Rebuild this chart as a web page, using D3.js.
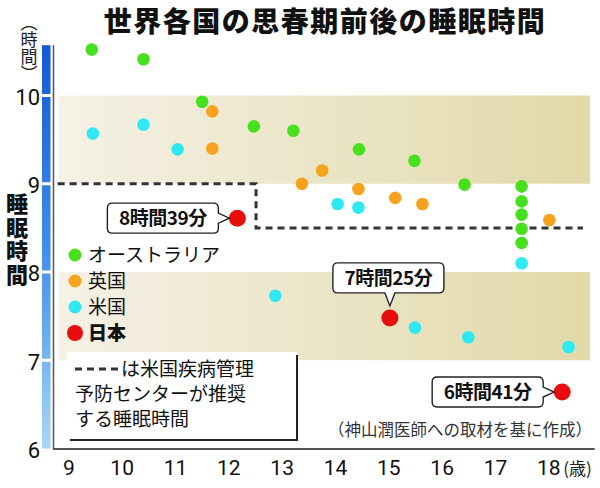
<!DOCTYPE html>
<html><head><meta charset="utf-8">
<script src="https://cdn.jsdelivr.net/npm/d3@7"></script>
<style>
body{margin:0;background:#fff;}
svg{display:block;}
</style></head>
<body>
<svg id="c" width="600" height="488"></svg>
<script>
// ---- data (age in years, sleep in hours) ----
const australia = [[9.44,10.52],[10.41,10.41],[11.51,9.93],[12.48,9.65],[13.22,9.60],[14.45,9.39],[15.49,9.26],[16.43,8.99],[17.50,8.97],[17.50,8.80],[17.50,8.65],[17.50,8.49],[17.50,8.33]];
const uk = [[11.70,9.82],[11.70,9.40],[13.38,9.00],[13.76,9.15],[14.44,8.94],[15.13,8.84],[15.64,8.77],[18.02,8.59]];
const usa = [[9.46,9.57],[10.41,9.67],[11.05,9.39],[12.88,7.73],[14.05,8.77],[14.44,8.73],[17.50,8.10],[15.50,7.37],[16.50,7.26],[18.38,7.15]];
const japan = [[12.17,8.61],[15.03,7.48],[18.26,6.64]];
const japanLabels = ["8時間39分","7時間25分","6時間41分"];
const cdcLine = [[8.8,9],[12.52,9],[12.52,8.5],[18.65,8.5]];
const xTicks = [9,10,11,12,13,14,15,16,17,18];
const yTicks = [6,7,8,9,10];
const bands = [[9,10],[7,8]];
const legendItems = ["オーストラリア","英国","米国","日本"];
const legendNote = ["は米国疾病管理","予防センターが推奨","する睡眠時間"];
const title = "世界各国の思春期前後の睡眠時間";
const source = "（神山潤医師への取材を基に作成）";
const yUnit = "（時間）";
const yTitle = "睡眠時間";
const xUnit = "(歳)";

const colors = {aus:"#46e01e", uk:"#f7a21c", usa:"#2fe9f2", jp:"#ea0d0d"};
const JP = "'Noto Sans CJK JP','Noto Sans',sans-serif";
const NUM = "'Liberation Sans Narrow','Roboto','Noto Sans CJK JP',sans-serif";

const svg = d3.select("#c");
const x = d3.scaleLinear().domain([9,18]).range([68.3,548.3]);
const y = d3.scaleLinear().domain([6,10]).range([448.5,95.5]);

const defs = svg.append("defs");
const bg = defs.append("linearGradient").attr("id","band").attr("x1","0").attr("x2","1").attr("y1","0").attr("y2","0");
bg.append("stop").attr("offset","0").attr("stop-color","#f5f1e6");
bg.append("stop").attr("offset","1").attr("stop-color","#e1d9a8");
const blue = defs.append("linearGradient").attr("id","blue").attr("x1","0").attr("x2","0").attr("y1","0").attr("y2","1");
blue.append("stop").attr("offset","0").attr("stop-color","#1459d6");
blue.append("stop").attr("offset","0.5").attr("stop-color","#3f8ceb");
blue.append("stop").attr("offset","1").attr("stop-color","#a6d8f7");

// title
svg.append("text").attr("x",325).attr("y",32).attr("text-anchor","middle")
  .attr("font-family",JP).attr("font-weight","900").attr("font-size",28)
  .attr("letter-spacing","1.5").attr("fill","#111").text(title);

// bands
svg.selectAll("rect.band").data(bands).enter().append("rect").attr("class","band")
  .attr("x",x(8.82)).attr("width",x(18.78)-x(8.82))
  .attr("y",d=>y(d[1])).attr("height",d=>y(d[0])-y(d[1]))
  .attr("fill","url(#band)");

// blue bar
svg.append("rect").attr("x",42).attr("width",8.5).attr("y",y(10.57)).attr("height",y(6)-y(10.57)).attr("fill","url(#blue)");
svg.selectAll("rect.gap").data([7,8,9,10]).enter().append("rect").attr("class","gap")
  .attr("x",41).attr("width",11).attr("y",d=>y(d)-1.5).attr("height",3).attr("fill","#fff");

// axes lines
svg.append("line").attr("x1",53.5).attr("x2",53.5).attr("y1",y(10.57)).attr("y2",y(6)+1).attr("stroke","#555").attr("stroke-width",1.5);
svg.append("line").attr("x1",53).attr("x2",x(18.87)).attr("y1",y(6)+0.5).attr("y2",y(6)+0.5).attr("stroke","#555").attr("stroke-width",2);

// x axis ticks
const xa = svg.append("g").attr("transform",`translate(0,${y(6)+5})`)
  .call(d3.axisBottom(x).tickValues(xTicks).tickSize(0).tickFormat(d3.format("d")));
xa.select(".domain").remove();
xa.selectAll("text").attr("font-family",NUM).attr("font-size",21).attr("fill","#111").attr("dy","0.9em");
svg.append("text").attr("x",x(18)+15).attr("y",y(6)+26).attr("font-family",JP).attr("font-size",17).attr("fill","#222").text(xUnit);

// y axis ticks
const ya = svg.append("g").attr("transform","translate(40,0)")
  .call(d3.axisLeft(y).tickValues(yTicks).tickSize(0).tickFormat(d3.format("d")));
ya.select(".domain").remove();
ya.selectAll("text").attr("font-family",NUM).attr("font-size",22).attr("fill","#111").attr("x",0).attr("dy","0.4em");

// y unit (時間) vertical
svg.append("text").attr("x",29).attr("y",14).attr("font-family",JP).attr("font-size",17).attr("fill","#222")
  .style("writing-mode","vertical-rl").text(yUnit);

// 睡眠時間 vertical
svg.append("text").attr("x",17).attr("y",193).attr("font-family",JP).attr("font-size",22).attr("font-weight","900").attr("fill","#111")
  .style("writing-mode","vertical-rl").attr("letter-spacing","1.5").text(yTitle);

// CDC dashed line
svg.append("path").datum(cdcLine)
  .attr("d",d3.line().x(d=>x(d[0])).y(d=>y(d[1])))
  .attr("fill","none").attr("stroke","#333").attr("stroke-width",3).attr("stroke-dasharray","7,5");

// points
function dots(data,color,r){
  svg.append("g").selectAll("circle").data(data).enter().append("circle")
    .attr("cx",d=>x(d[0])).attr("cy",d=>y(d[1])).attr("r",r).attr("fill",color);
}
dots(australia,colors.aus,6.3);
dots(uk,colors.uk,6.3);
dots(usa,colors.usa,6.3);
dots(japan,colors.jp,8.5);

// callouts
function callout(px,py,label,dir){
  const w=111,h=30,r=5;
  let bx,by;
  const g=svg.append("g");
  let p;
  if(dir==="left"){ // box left of point, pointer to right
    bx=px-130; by=py-15;
    const tipx=px-8, tipy=py;
    p=`M${bx+r},${by} H${bx+w-r} Q${bx+w},${by} ${bx+w},${by+r} V${tipy-5} L${tipx},${tipy} L${bx+w},${tipy+5} V${by+h-r} Q${bx+w},${by+h} ${bx+w-r},${by+h} H${bx+r} Q${bx},${by+h} ${bx},${by+h-r} V${by+r} Q${bx},${by} ${bx+r},${by} Z`;
  } else { // box above point, pointer down
    bx=px-57; by=py-55;
    const tipx=px, tipy=py-12;
    p=`M${bx+r},${by} H${bx+w-r} Q${bx+w},${by} ${bx+w},${by+r} V${by+h-r} Q${bx+w},${by+h} ${bx+w-r},${by+h} H${tipx+5} L${tipx},${tipy} L${tipx-5},${by+h} H${bx+r} Q${bx},${by+h} ${bx},${by+h-r} V${by+r} Q${bx},${by} ${bx+r},${by} Z`;
  }
  g.append("path").attr("d",p).attr("fill","#fff").attr("stroke","#222").attr("stroke-width",1.4);
  g.append("text").attr("x",bx+w/2).attr("y",by+h/2+7).attr("text-anchor","middle")
    .attr("font-family",JP).attr("font-weight","bold").attr("font-size",19).attr("letter-spacing","-0.5").attr("fill","#111").text(label);
}
callout(x(japan[0][0]),y(japan[0][1]),japanLabels[0],"left");
callout(x(japan[1][0]),y(japan[1][1]),japanLabels[1],"up");
callout(x(japan[2][0]),y(japan[2][1]),japanLabels[2],"left");

// legend
const legColors=[colors.aus,colors.uk,colors.usa,colors.jp];
const lg=svg.append("g");
legendItems.forEach((t,i)=>{
  const cy=255+i*26;
  lg.append("circle").attr("cx",75).attr("cy",cy).attr("r",i===3?8:6.5).attr("fill",legColors[i]);
  lg.append("text").attr("x",88).attr("y",cy+7).attr("font-family",JP).attr("font-size",19)
    .attr("font-weight",i===3?"900":"normal").attr("fill","#111").text(t);
});

// note box
const nb=svg.append("g");
nb.append("rect").attr("x",67).attr("y",352).attr("width",230).attr("height",88).attr("fill","#fff");
nb.append("path").attr("d","M70,440 H297 V355").attr("fill","none").attr("stroke","#222").attr("stroke-width",2);
nb.append("line").attr("x1",75).attr("x2",118).attr("y1",369).attr("y2",369).attr("stroke","#333").attr("stroke-width",3).attr("stroke-dasharray","7,5");
legendNote.forEach((t,i)=>{
  nb.append("text").attr("x",i===0?121:75).attr("y",376+i*25).attr("font-family",JP).attr("font-size",19).attr("fill","#111").text(t);
});

// source
svg.append("text").attr("x",592).attr("y",436).attr("text-anchor","end").attr("font-family",JP).attr("font-size",16.5).attr("fill","#333").text(source);
</script>
</body></html>
